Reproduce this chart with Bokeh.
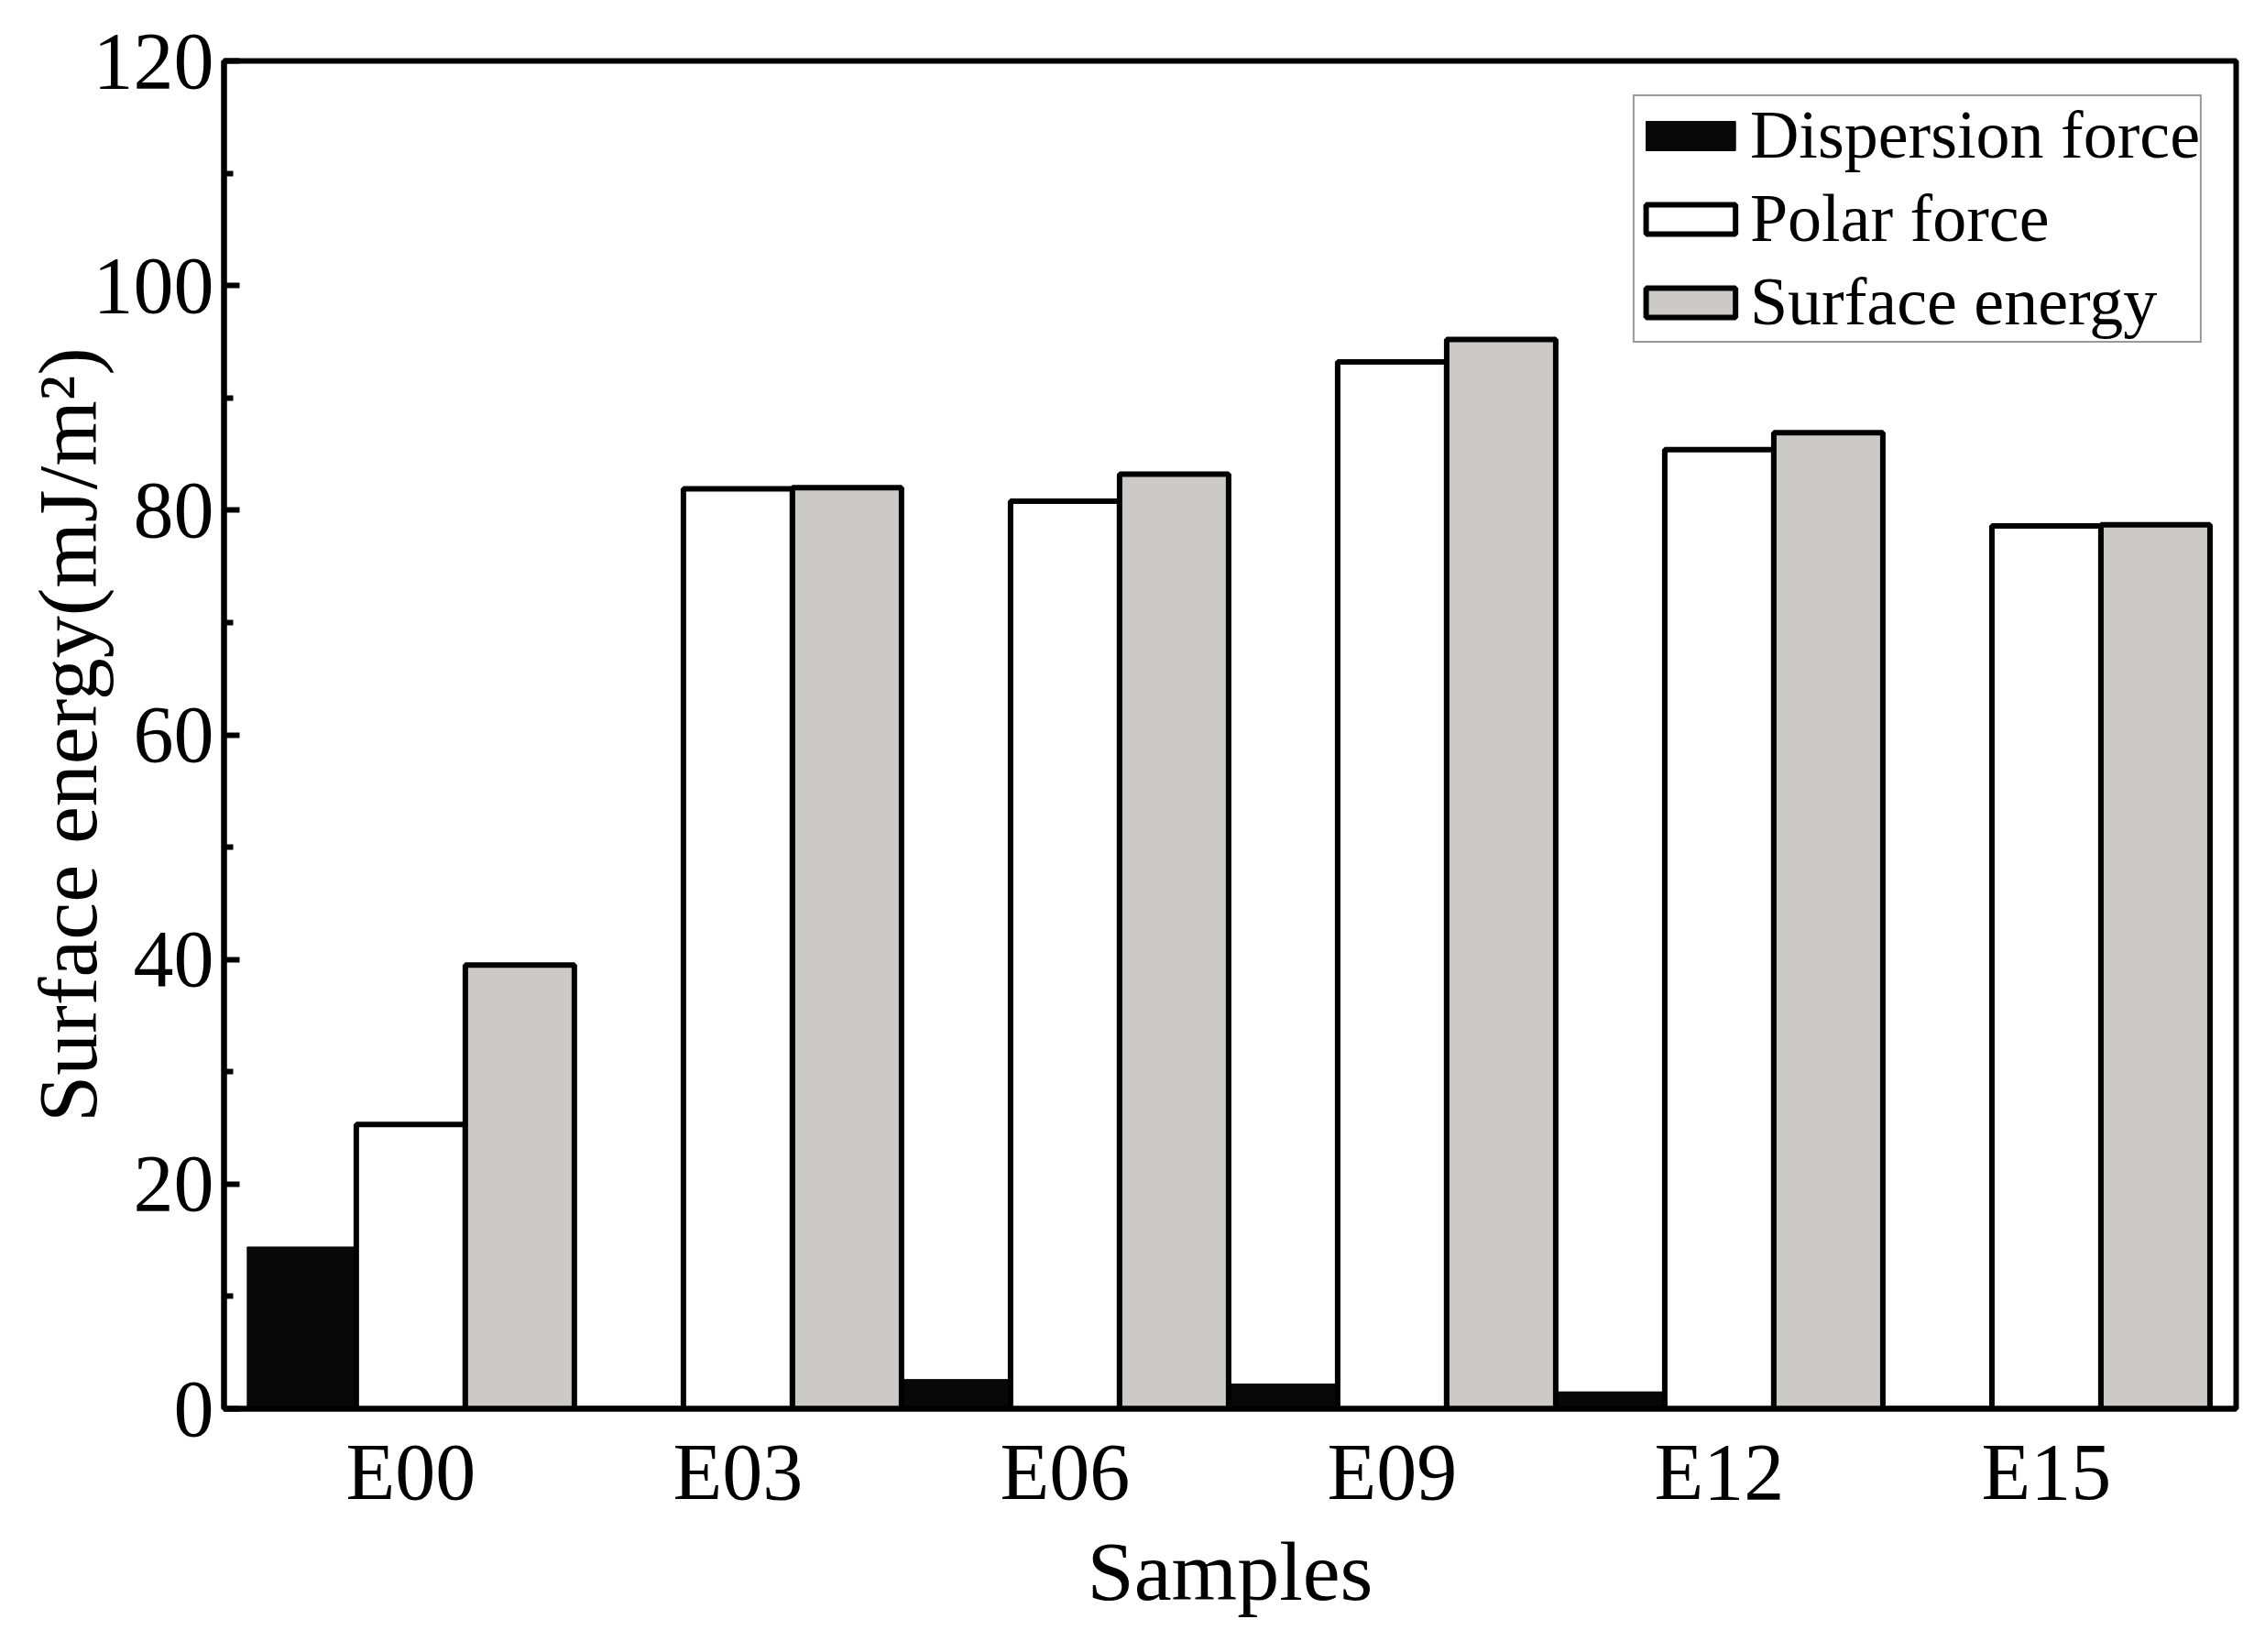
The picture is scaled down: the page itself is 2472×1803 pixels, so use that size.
from bokeh.plotting import figure
from bokeh.models import ColumnDataSource, Range1d, FixedTicker, Legend, LegendItem, CustomJSTickFormatter
from bokeh.embed import file_html
from bokeh.resources import INLINE

samples = ["E00", "E03", "E06", "E09", "E12", "E15"]
dispersion = [14.4, 0.2, 2.6, 2.2, 1.5, 0.2]
polar = [25.3, 81.9, 80.8, 93.2, 85.4, 78.6]
surface = [39.5, 82.0, 83.2, 95.2, 86.9, 78.7]

FONT = "Liberation Serif"
x = list(range(len(samples)))
w = 1.0 / 3.0
src = ColumnDataSource(dict(
    x_d=[i - w for i in x], x_p=x, x_s=[i + w for i in x],
    d=dispersion, pp=polar, s=surface))

p = figure(width=2456, height=1787, output_backend="svg", toolbar_location=None,
           x_range=Range1d(-0.571, 5.58), y_range=Range1d(0, 120),
           min_border_left=244, min_border_top=66, min_border_right=16, min_border_bottom=250)
p.grid.visible = False
p.background_fill_color = "white"
p.outline_line_color = "black"
p.outline_line_width = 6

r_d = p.vbar(x="x_d", top="d", width=w, source=src, fill_color="#080808", line_color="#080808", line_width=1)
r_p = p.vbar(x="x_p", top="pp", width=w, source=src, fill_color="white", line_color="black", line_width=6)
r_s = p.vbar(x="x_s", top="s", width=w, source=src, fill_color="#cccac6", line_color="black", line_width=6)

# axes
p.xaxis.ticker = FixedTicker(ticks=x)
p.xaxis.formatter = CustomJSTickFormatter(args=dict(labels=samples), code="return labels[Math.round(tick)];")
p.xaxis.major_tick_line_color = None
p.xaxis.minor_tick_line_color = None
p.xaxis.axis_line_width = 6
p.xaxis.major_label_text_font = FONT
p.xaxis.major_label_text_color = "black"
p.xaxis.major_label_text_font_size = "88px"
p.xaxis.major_label_standoff = 14
p.xaxis.axis_label = "Samples"
p.xaxis.axis_label_text_font = FONT
p.xaxis.axis_label_text_color = "black"
p.xaxis.axis_label_text_font_style = "normal"
p.xaxis.axis_label_text_font_size = "92px"
p.xaxis.axis_label_standoff = 6

p.yaxis.ticker = FixedTicker(ticks=[0, 20, 40, 60, 80, 100, 120], minor_ticks=[10, 30, 50, 70, 90, 110])
p.yaxis.axis_line_width = 6
p.yaxis.major_tick_in = 17
p.yaxis.major_tick_out = 0
p.yaxis.minor_tick_in = 10
p.yaxis.minor_tick_out = 0
p.yaxis.major_tick_line_width = 6
p.yaxis.minor_tick_line_width = 6
p.yaxis.major_label_text_font = FONT
p.yaxis.major_label_text_color = "black"
p.yaxis.major_label_text_font_size = "88px"
p.yaxis.major_label_standoff = 11
p.yaxis.axis_label = "Surface energy(mJ/m²)"
p.yaxis.axis_label_text_font = FONT
p.yaxis.axis_label_text_color = "black"
p.yaxis.axis_label_text_font_style = "normal"
p.yaxis.axis_label_text_font_size = "92px"
p.yaxis.axis_label_standoff = -26

legend = Legend(items=[
    LegendItem(label="Dispersion force", renderers=[r_d]),
    LegendItem(label="Polar force", renderers=[r_p]),
    LegendItem(label="Surface energy", renderers=[r_s]),
], location="top_right")
legend.label_text_font = FONT
legend.label_text_color = "black"
legend.label_text_font_size = "74px"
legend.glyph_width = 122
legend.glyph_height = 40
legend.label_standoff = 4
legend.spacing = 6
legend.padding = 0
legend.margin = 37
legend.label_height = 78
legend.border_line_color = "#333333"
legend.border_line_width = 2
legend.background_fill_color = "white"
p.add_layout(legend)

open("out.html", "w").write(file_html(p, INLINE))
